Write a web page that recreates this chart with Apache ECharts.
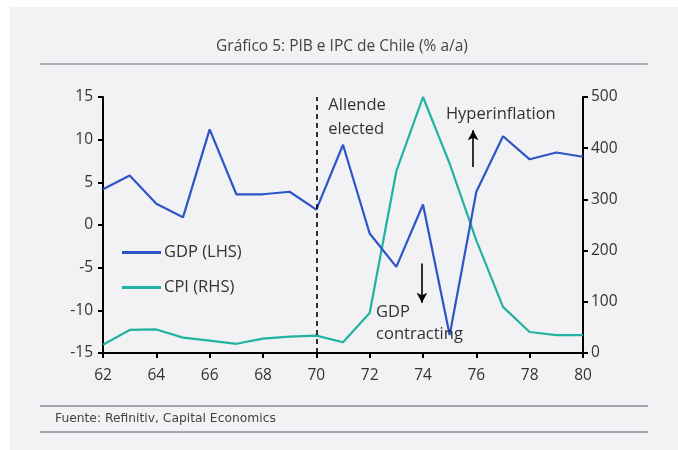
<!DOCTYPE html>
<html>
<head>
<meta charset="utf-8">
<script src="https://cdn.jsdelivr.net/npm/echarts@6/dist/echarts.min.js"></script>
<style>
html,body{margin:0;padding:0;background:#ffffff;}
#c{width:678px;height:450px;}
</style>
</head>
<body>
<div id="c"></div>
<script>
var years = [62,63,64,65,66,67,68,69,70,71,72,73,74,75,76,77,78,79,80];
var gdp = [4.2,5.8,2.5,0.9,11.2,3.6,3.6,3.9,1.8,9.4,-1.0,-4.9,2.4,-12.9,3.9,10.4,7.7,8.5,8.0];
var cpi = [16,45,46,30,24,18,28,32,34,21,78,355,500,370,220,90,41,35,35];
var xTicks = [62,64,66,68,70,72,74,76,78,80];
var leftTicks = [-15,-10,-5,0,5,10,15];
var rightTicks = [0,100,200,300,400,500];
var titleText = 'Gráfico 5: PIB e IPC de Chile (% a/a)';
var sourceText = 'Fuente: Refinitiv, Capital Economics';
var electionYear = 70;

var font = '"Open Sans", "Noto Sans", sans-serif';
var gdpColor = '#2d55c8';
var cpiColor = '#20b3a0';

function pairs(xs, ys){ return xs.map(function(x,i){ return [x, ys[i]]; }); }

var chart = echarts.init(document.getElementById('c'), null, {renderer:'canvas'});
var axisLine = {show:true, onZero:false, lineStyle:{color:'#000', width:2}};
var axisTick = {show:true, length:5, lineStyle:{color:'#000', width:2}};
var labelStyle = {color:'#333', fontSize:15.5, fontFamily:font};

var option = {
  backgroundColor:'#ffffff',
  animation:false,
  grid:{left:103, right:95, top:97, bottom:97},
  legend:{
    left:117, top:239, orient:'vertical', itemWidth:39, itemHeight:3, itemGap:18,
    icon:'rect',
    textStyle:{color:'#333', fontSize:16.5, fontFamily:font, padding:[0,0,0,-2]},
    data:['GDP (LHS)','CPI (RHS)']
  },
  xAxis:{
    type:'value', min:62, max:80, interval:2,
    axisLine:axisLine, axisTick:axisTick, splitLine:{show:false},
    axisLabel:Object.assign({margin:15}, labelStyle)
  },
  yAxis:[
    {type:'value', min:-15, max:15, interval:5, position:'left',
     axisLine:axisLine, axisTick:axisTick, splitLine:{show:false},
     axisLabel:Object.assign({margin:10}, labelStyle)},
    {type:'value', min:0, max:500, interval:100, position:'right',
     axisLine:axisLine, axisTick:axisTick, splitLine:{show:false},
     axisLabel:Object.assign({margin:8}, labelStyle)}
  ],
  series:[
    {name:'CPI (RHS)', type:'line', yAxisIndex:1, data:pairs(years,cpi),
     showSymbol:false, lineStyle:{color:cpiColor, width:2.2}, itemStyle:{color:cpiColor}, z:2},
    {name:'GDP (LHS)', type:'line', yAxisIndex:0, data:pairs(years,gdp),
     showSymbol:false, lineStyle:{color:gdpColor, width:2.2}, itemStyle:{color:gdpColor}, z:3,
     markLine:{
       silent:true, animation:false,
       label:{show:false},
       data:[
         [{coord:[electionYear,-15], symbol:'none', lineStyle:{color:'#000', type:[5,4], width:1.6}},
          {coord:[electionYear,15], symbol:'none'}],
         [{coord:[75.88,6.8], symbol:'none', lineStyle:{color:'#000', type:'solid', width:1.6}},
          {coord:[75.88,11.1], symbol:'arrow', symbolSize:[8,10]}],
         [{coord:[73.96,-4.5], symbol:'none', lineStyle:{color:'#000', type:'solid', width:1.6}},
          {coord:[73.96,-9.1], symbol:'arrow', symbolSize:[8,10]}]
       ]
     }}
  ]
};
chart.setOption(option);

function px(x,y){ return chart.convertToPixel({xAxisIndex:0, yAxisIndex:0}, [x,y]); }
var annFont = '16.5px ' + font;
var annotations = [
  {text:'Allende', x:70.45, y:14.05},
  {text:'elected', x:70.45, y:11.25},
  {text:'Hyperinflation', x:74.86, y:13.0},
  {text:'GDP', x:72.24, y:-10.2},
  {text:'contracting', x:72.24, y:-12.8}
];
var graphics = [
  {type:'rect', z:-10, shape:{x:10, y:7, width:668, height:443}, style:{fill:'#f2f2f4'}},
  {type:'text', x:342, y:47, z:10, style:{text:titleText, fill:'#444', font:'15.5px ' + font, align:'center', verticalAlign:'middle'}},
  {type:'line', z:10, shape:{x1:40, y1:64, x2:648, y2:64}, style:{stroke:'#6d6d7a', lineWidth:1.2}},
  {type:'line', z:10, shape:{x1:40, y1:406, x2:648, y2:406}, style:{stroke:'#8a8a96', lineWidth:1.3}},
  {type:'text', x:55, y:419, z:10, style:{text:sourceText, fill:'#444', font:'12.3px "DejaVu Sans", sans-serif', verticalAlign:'middle'}},
  {type:'line', z:10, shape:{x1:40, y1:432, x2:648, y2:432}, style:{stroke:'#8a8a96', lineWidth:1.3}}
];
annotations.forEach(function(a){
  var p = px(a.x, a.y);
  graphics.push({type:'text', x:p[0], y:p[1], z:10,
    style:{text:a.text, fill:'#333', font:annFont, verticalAlign:'middle'}});
});
chart.setOption({graphic:graphics});
</script>
</body>
</html>
